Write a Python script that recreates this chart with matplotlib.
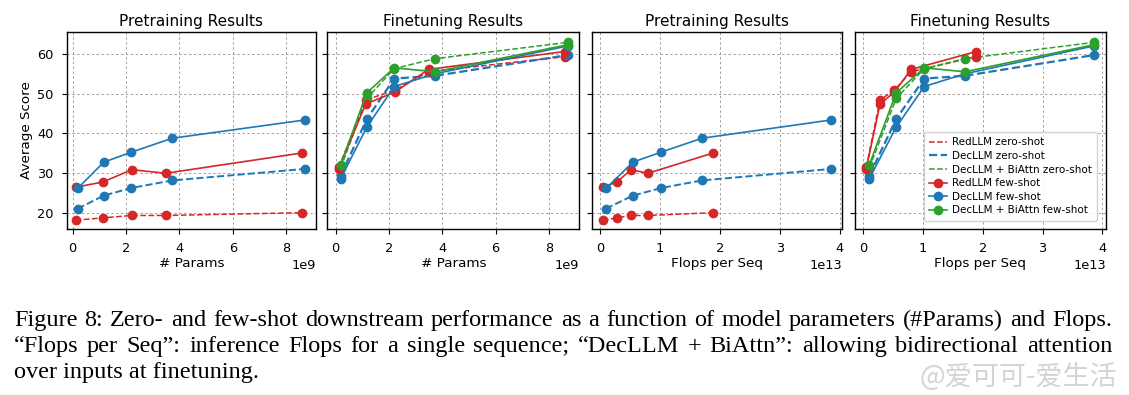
import matplotlib
matplotlib.use("Agg")
import matplotlib.pyplot as plt
import numpy as np

# ---------------- data ----------------
params_red = np.array([0.12, 1.13, 2.22, 3.49, 8.59]) * 1e9
params_dec = np.array([0.19, 1.17, 2.20, 3.73, 8.71]) * 1e9
flops_red = np.array([0.05, 0.28, 0.52, 0.80, 1.89]) * 1e13
flops_dec = np.array([0.10, 0.55, 1.02, 1.70, 3.86]) * 1e13

pre_red_zero = [18.2, 18.8, 19.4, 19.4, 20.1]
pre_red_few = [26.5, 27.8, 30.9, 30.0, 35.1]
pre_dec_zero = [21.1, 24.4, 26.3, 28.2, 31.1]
pre_dec_few = [26.2, 32.8, 35.3, 38.8, 43.4]

ft_red_zero = [31.5, 48.4, 50.9, 55.5, 59.3]
ft_red_few = [31.2, 47.4, 50.4, 56.1, 60.6]
ft_dec_zero = [29.4, 43.6, 53.8, 54.5, 59.7]
ft_dec_few = [28.6, 41.6, 51.8, 55.0, 62.0]
ft_bi_zero = [31.3, 48.8, 56.3, 58.8, 62.9]
ft_bi_few = [32.1, 50.2, 56.5, 55.5, 62.3]

titles = ["Pretraining Results", "Finetuning Results", "Pretraining Results", "Finetuning Results"]
xlabels = ["# Params", "# Params", "Flops per Seq", "Flops per Seq"]
yticks = [20, 30, 40, 50, 60]
caption_lines = [
    "Figure 8:  Zero- and few-shot downstream performance as a function of model parameters (#Params) and Flops.",
    "\u201cFlops per Seq\u201d: inference Flops for a single sequence; \u201cDecLLM + BiAttn\u201d: allowing bidirectional attention",
    "over inputs at finetuning.",
]
watermark = "@爱可可-爱生活"

RED, BLUE, GREEN = "#d62728", "#1f77b4", "#2ca02c"

W, H = 1129, 395
fig = plt.figure(figsize=(W / 100, H / 100), dpi=100)

lefts = [66.7, 327.3, 592.3, 855.0]
rights = [316.0, 579.3, 842.3, 1105.7]
top_px, bot_px = 32.0, 229.0
xlims = [(-0.22e9, 9.12e9), (-0.31e9, 9.14e9), (-0.128e13, 4.045e13), (-0.139e13, 4.057e13)]

axes = []
for i in range(4):
    ax = fig.add_axes([lefts[i] / W, 1 - bot_px / H, (rights[i] - lefts[i]) / W, (bot_px - top_px) / H],
                      sharey=axes[0] if axes else None)
    axes.append(ax)


def series(ax, x, y, color, dashed, label, lw):
    if dashed:
        ax.plot(x, y, linestyle="--", color=color, lw=lw, label=label, zorder=2)
        ax.plot(x, y, linestyle="none", marker="o", ms=6, color=color, zorder=3)
    else:
        ax.plot(x, y, linestyle="-", color=color, lw=lw, marker="o", ms=6, label=label, zorder=3)


for i, ax in enumerate(axes):
    xr = params_red if i < 2 else flops_red
    xd = params_dec if i < 2 else flops_dec
    if i in (0, 2):
        series(ax, xr, pre_red_zero, RED, True, "RedLLM zero-shot", 1.1)
        series(ax, xd, pre_dec_zero, BLUE, True, "DecLLM zero-shot", 1.4)
        series(ax, xr, pre_red_few, RED, False, "RedLLM few-shot", 1.2)
        series(ax, xd, pre_dec_few, BLUE, False, "DecLLM few-shot", 1.2)
    else:
        series(ax, xr, ft_red_zero, RED, True, "RedLLM zero-shot", 1.1)
        series(ax, xd, ft_dec_zero, BLUE, True, "DecLLM zero-shot", 1.6)
        series(ax, xd, ft_bi_zero, GREEN, True, "DecLLM + BiAttn zero-shot", 1.1)
        series(ax, xr, ft_red_few, RED, False, "RedLLM few-shot", 1.2)
        series(ax, xd, ft_dec_few, BLUE, False, "DecLLM few-shot", 1.2)
        series(ax, xd, ft_bi_few, GREEN, False, "DecLLM + BiAttn few-shot", 1.2)

    ax.set_xlim(*xlims[i])
    ax.set_ylim(16.0, 65.5)
    ax.set_yticks(yticks)
    ax.grid(True, color="#a0a0a0", linestyle=(0, (2.5, 2.5)), lw=0.7)
    ax.set_axisbelow(True)
    ax.set_title(titles[i], fontsize=11, pad=4)
    ax.set_xlabel(xlabels[i], fontsize=9.7, labelpad=1)
    ax.tick_params(labelsize=9.3, pad=6)
    ax.xaxis.get_offset_text().set_fontsize(9.3)
    if i > 0:
        ax.tick_params(labelleft=False)
    for s in ax.spines.values():
        s.set_linewidth(1.0)

axes[0].set_ylabel("Average Score", fontsize=9.7, labelpad=3)
axes[3].legend(loc="lower right", fontsize=7.5, frameon=True, framealpha=0.85,
               borderpad=0.5, labelspacing=0.35, handlelength=1.7, handletextpad=0.5,
               borderaxespad=0.8)

# caption: first two lines justified between x=14 and x=1112 px, last line ragged
renderer = fig.canvas.get_renderer()
cap_kw = dict(fontsize=17.5, family="Liberation Serif", va="baseline", ha="left")
x_left, x_right = 14.0, 1112.0
baselines = [326, 352, 378]
for k, (line, yb) in enumerate(zip(caption_lines, baselines)):
    if k == len(caption_lines) - 1:
        fig.text(x_left / W, 1 - yb / H, line, **cap_kw)
        continue
    words = line.split()
    texts = [fig.text(0, 1 - yb / H, w, **cap_kw) for w in words]
    widths = [t.get_window_extent(renderer).width for t in texts]
    gap = (x_right - x_left - sum(widths)) / (len(words) - 1)
    x = x_left
    for t, w in zip(texts, widths):
        t.set_x(x / W)
        x += w + gap

fig.text(1117 / W, 1 - 377 / H, watermark, fontsize=19.5, color="#d4d4d4",
         family=["Noto Sans CJK SC", "DejaVu Sans"], ha="right", va="center")

fig.savefig("out.png", dpi=100)
